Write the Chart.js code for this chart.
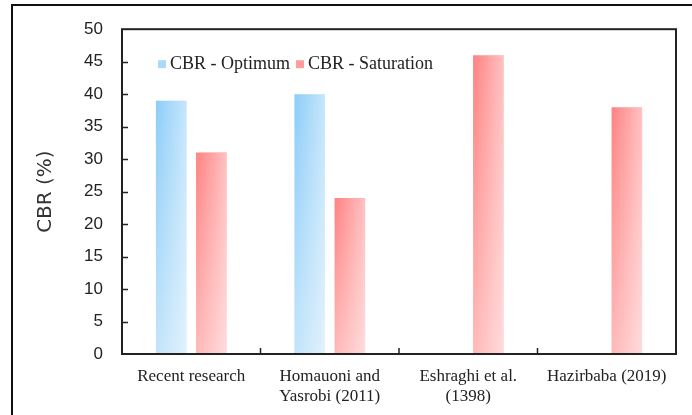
<!DOCTYPE html>
<html lang="en">

<head>
    <meta charset="UTF-8" />
    <title>CBR comparison</title>
    <style>
        * {
            margin: 0;
            padding: 0;
        }

        body {
            background: #fff;
            width: 692px;
            height: 415px;
            overflow: hidden;
        }

        .chartBox {
            width: 692px;
            height: 415px;
        }
    </style>
</head>

<body>
    <div class="chartBox">
        <canvas id="myChart" width="692" height="415"></canvas>
    </div>
    <script src="https://cdn.jsdelivr.net/npm/chart.js@4.4.0/dist/chart.umd.min.js"></script>
    <script>
        // data
        const categories = [
            ["Recent research"],
            ["Homauoni and", "Yasrobi (2011)"],
            ["Eshraghi et al.", "(1398)"],
            ["Hazirbaba (2019)"]
        ];
        const seriesNames = ["CBR - Optimum", "CBR - Saturation"];
        const optimumValues = [39, 40, null, null];
        const saturationValues = [31, 24, 46, 38];
        const yMin = 0;
        const yMax = 50;
        const yStep = 5;

        const topColors = ["#8ccdf8", "#ff8282"];
        const bottomColors = ["#c2e4fb", "#ffb8b8"];
        const legendColors = ["#a9daf9", "#ff9c9c"];

        // vertical gradient for each bar, worked out from the y scale
        const barFill = (context) => {
            const i = context.datasetIndex;
            const chart = context.chart;
            const y = chart.scales.y;
            if (!chart.chartArea || !y || context.raw == null) return topColors[i];
            const top = y.getPixelForValue(context.raw);
            const base = y.getPixelForValue(0);
            if (base - top < 1) return topColors[i];
            const g = chart.ctx.createLinearGradient(0, top, 0, base);
            g.addColorStop(0, topColors[i]);
            g.addColorStop(1, bottomColors[i]);
            return g;
        };

        // light sheen across the bars, plot frame, inward ticks, legend
        const decor = {
            id: "decor",
            afterDatasetsDraw(chart) {
                const ctx = chart.ctx;
                chart.data.datasets.forEach((ds, i) => {
                    chart.getDatasetMeta(i).data.forEach((bar, j) => {
                        if (ds.data[j] == null) return;
                        const left = bar.x - bar.width / 2;
                        const g = ctx.createLinearGradient(left, 0, left + bar.width, 0);
                        g.addColorStop(0, "rgba(255,255,255,0)");
                        g.addColorStop(1, "rgba(255,255,255,0.5)");
                        ctx.save();
                        ctx.fillStyle = g;
                        ctx.fillRect(left, bar.y, bar.width, bar.base - bar.y);
                        ctx.restore();
                    });
                });
            },
            afterDraw(chart) {
                const ctx = chart.ctx;
                const y = chart.scales.y;
                const x = chart.scales.x;
                const left = x.getPixelForValue(-0.5);
                const right = x.getPixelForValue(categories.length - 0.5);
                const top = y.getPixelForValue(yMax);
                const bottom = y.getPixelForValue(yMin);
                ctx.save();

                // outer figure border (top and left only)
                ctx.strokeStyle = "#111";
                ctx.lineWidth = 2;
                ctx.beginPath();
                ctx.moveTo(12, chart.height);
                ctx.lineTo(12, 5);
                ctx.lineTo(chart.width, 5);
                ctx.stroke();

                ctx.strokeStyle = "#222";
                ctx.strokeRect(left, top, right - left, bottom - top);
                ctx.lineWidth = 1.5;
                ctx.beginPath();
                for (let v = yMin + yStep; v < yMax; v += yStep) {
                    const py = Math.round(y.getPixelForValue(v)) + 0.5;
                    ctx.moveTo(left, py);
                    ctx.lineTo(left + 6, py);
                }
                for (let k = 1; k < categories.length; k++) {
                    const px = x.getPixelForValue(k - 0.5);
                    ctx.moveTo(px, bottom);
                    ctx.lineTo(px, bottom - 6);
                }
                ctx.stroke();

                // legend inside the plot
                ctx.font = "18px 'Liberation Serif'";
                ctx.textBaseline = "middle";
                let lx = left + 36;
                const ly = top + 35;
                seriesNames.forEach((name, i) => {
                    ctx.fillStyle = legendColors[i];
                    ctx.fillRect(lx, ly - 4, 8, 8);
                    ctx.fillStyle = "#222";
                    ctx.fillText(name, lx + 12, ly);
                    lx += 12 + ctx.measureText(name).width + 6;
                });
                ctx.restore();
            }
        };

        const data = {
            labels: categories,
            datasets: [
                {
                    label: seriesNames[0],
                    data: optimumValues,
                    backgroundColor: barFill,
                    borderWidth: 0,
                    categoryPercentage: 0.58,
                    barPercentage: 0.76
                },
                {
                    label: seriesNames[1],
                    data: saturationValues,
                    backgroundColor: barFill,
                    borderWidth: 0,
                    categoryPercentage: 0.58,
                    barPercentage: 0.76
                }
            ]
        };

        const options = {
            responsive: false,
            animation: false,
            layout: {
                padding: { left: 34, right: 16, top: 26, bottom: 0 }
            },
            scales: {
                x: {
                    grid: { display: false, drawTicks: false },
                    border: { display: false },
                    ticks: {
                        color: "#222",
                        padding: 12,
                        maxRotation: 0,
                        autoSkip: false,
                        font: { family: "'Liberation Serif'", size: 17, lineHeight: 1.2 }
                    },
                    afterFit: s => { s.height = 415 - 354; }
                },
                y: {
                    min: yMin,
                    max: yMax,
                    grid: { display: false, drawTicks: false },
                    border: { display: false },
                    ticks: {
                        stepSize: yStep,
                        color: "#222",
                        padding: 19,
                        font: { family: "'Liberation Sans'", size: 17 }
                    },
                    title: {
                        display: true,
                        text: "CBR (%)",
                        color: "#333",
                        padding: { top: 0, bottom: 0 },
                        font: { family: "'DejaVu Sans'", size: 20 }
                    },
                    afterFit: s => { s.width = 122 - 34; }
                }
            },
            plugins: {
                legend: { display: false },
                tooltip: { enabled: false }
            }
        };

        const config = {
            type: "bar",
            data: data,
            plugins: [decor],
            options: options
        };

        const ctx = document.getElementById("myChart").getContext("2d");
        const myChart = new Chart(ctx, config);
    </script>
</body>

</html>
